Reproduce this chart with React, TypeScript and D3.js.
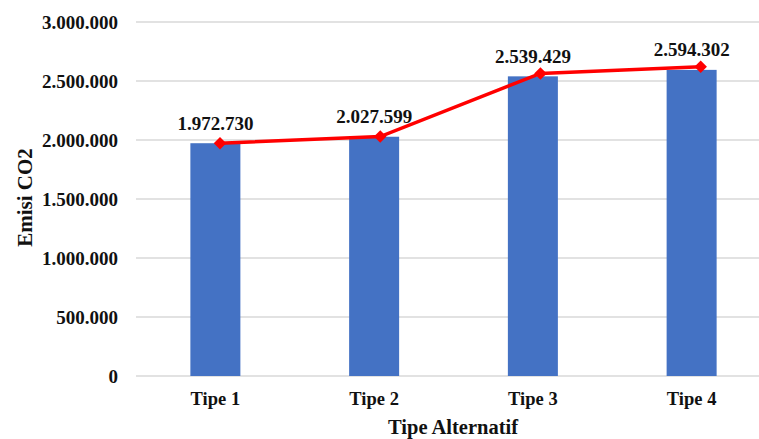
import React, { useEffect, useRef } from 'react';
import * as d3 from 'd3';

const categories = ['Tipe 1', 'Tipe 2', 'Tipe 3', 'Tipe 4'];
const emisi = [1972730, 2027599, 2539429, 2594302];
const yTicks = [0, 500000, 1000000, 1500000, 2000000, 2500000, 3000000];

const W = 759;
const H = 439;
const font = '"Liberation Serif", "Times New Roman", serif';

// 1.972.730 style
const fmt = (v: number) => d3.format(',')(v).replace(/,/g, '.');

const App: React.FC = () => {
    const ref = useRef<SVGSVGElement>(null);

    useEffect(() => {
        if (!ref.current) return;
        const svg = d3.select(ref.current);
        svg.selectAll('*').remove();

        const x = d3.scaleBand<string>().domain(categories).range([136, 771]).padding(0);
        const y = d3.scaleLinear().domain([0, 3000000]).range([376, 22]);
        const barW = x.bandwidth() * 0.315;
        const cx = (c: string) => (x(c) as number) + x.bandwidth() / 2;

        // the line sits on its own (slightly shifted) axes, as in the original
        const xLine = d3.scalePoint<string>().domain(categories).range([220, 700.7]);
        const yLine = d3.scaleLinear().domain([0, 3000000]).range([386.4, 16.7]);

        // gridlines
        svg.append('g')
            .selectAll('line')
            .data(yTicks)
            .enter()
            .append('line')
            .attr('x1', 136)
            .attr('x2', W)
            .attr('y1', (d) => y(d))
            .attr('y2', (d) => y(d))
            .attr('stroke', '#d9d9d9')
            .attr('stroke-width', 1.3);

        // y tick labels
        svg.append('g')
            .selectAll('text')
            .data(yTicks)
            .enter()
            .append('text')
            .attr('x', 118)
            .attr('y', (d) => y(d))
            .attr('dy', '0.35em')
            .attr('text-anchor', 'end')
            .style('font', `bold 19px ${font}`)
            .attr('fill', '#111')
            .text((d) => fmt(d));

        // bars
        svg.append('g')
            .selectAll('rect')
            .data(categories)
            .enter()
            .append('rect')
            .attr('x', (c) => cx(c) - barW / 2)
            .attr('width', barW)
            .attr('y', (c, i) => y(emisi[i]))
            .attr('height', (c, i) => y(0) - y(emisi[i]))
            .attr('fill', '#4472C4');

        // x tick labels
        svg.append('g')
            .selectAll('text')
            .data(categories)
            .enter()
            .append('text')
            .attr('x', (c) => cx(c))
            .attr('y', 405)
            .attr('text-anchor', 'middle')
            .style('font', `bold 18.5px ${font}`)
            .attr('fill', '#111')
            .text((c) => c);

        // red line
        const line = d3
            .line<number>()
            .x((d, i) => xLine(categories[i]) as number)
            .y((d) => yLine(d));
        svg.append('path')
            .datum(emisi)
            .attr('d', line)
            .attr('fill', 'none')
            .attr('stroke', '#ff0000')
            .attr('stroke-width', 3.5);

        // diamond markers
        const diamond = d3.symbol().type(d3.symbolDiamond2).size(100);
        svg.append('g')
            .selectAll('path')
            .data(emisi)
            .enter()
            .append('path')
            .attr('d', diamond)
            .attr('transform', (d, i) => `translate(${xLine(categories[i])},${yLine(d)})`)
            .attr('fill', '#ff0000');

        // value labels (centred on bars)
        svg.append('g')
            .selectAll('text')
            .data(emisi)
            .enter()
            .append('text')
            .attr('x', (d, i) => cx(categories[i]))
            .attr('y', (d) => y(d) - 13.5)
            .attr('text-anchor', 'middle')
            .style('font', `bold 19px ${font}`)
            .attr('fill', '#111')
            .text((d) => fmt(d));

        // axis titles
        svg.append('text')
            .attr('x', 453)
            .attr('y', 434)
            .attr('text-anchor', 'middle')
            .style('font', `bold 20.5px ${font}`)
            .attr('fill', '#111')
            .text('Tipe Alternatif');

        svg.append('text')
            .attr('transform', `translate(32,197.5) rotate(-90)`)
            .attr('text-anchor', 'middle')
            .style('font', `bold 21px ${font}`)
            .attr('fill', '#111')
            .text('Emisi CO2');
    }, []);

    return (
        <svg
            ref={ref}
            width={W}
            height={H}
            style={{ position: 'absolute', left: 0, top: 0, background: '#fff', display: 'block' }}
        />
    );
};

export default App;
